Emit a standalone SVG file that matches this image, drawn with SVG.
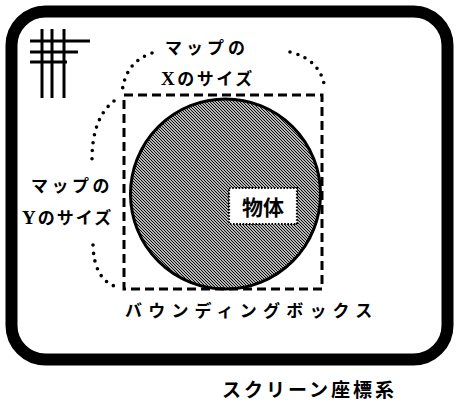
<svg xmlns="http://www.w3.org/2000/svg" width="456" height="403" viewBox="0 0 456 403">
<style>
.t{font-family:"Noto Sans CJK JP","Noto Sans",sans-serif;font-weight:bold;fill:#000}
.s{font-family:"Liberation Serif",serif;font-weight:bold}
.dots{fill:none;stroke:#000;stroke-width:3.6;stroke-linecap:round;stroke-dasharray:0 8}
</style>
<defs>
<pattern id="hatch" patternUnits="userSpaceOnUse" width="3" height="3">
<rect width="3" height="3" fill="#fff"/>
<path d="M-1,-1 L4,4 M-1,2 L1,4 M2,-1 L4,1" stroke="#000" stroke-width="1.1"/>
</pattern>
</defs>
<rect width="456" height="403" fill="#fff"/>
<g id="screen">
<rect x="11.5" y="11.5" width="436" height="348" rx="34" fill="none" stroke="#000" stroke-width="12"/>
<text class="t" x="222" y="397" font-size="19" letter-spacing="3">スクリーン座標系</text>
</g>
<g id="grid-icon" stroke="#000" stroke-width="3">
<line x1="42" y1="29" x2="42" y2="98"/>
<line x1="52" y1="29" x2="52" y2="98"/>
<line x1="64" y1="29" x2="64" y2="98"/>
<line x1="30" y1="41" x2="90" y2="41"/>
<line x1="30" y1="52" x2="78" y2="52"/>
<line x1="30" y1="62" x2="67" y2="62"/>
</g>
<g id="object">
<circle cx="225.5" cy="194" r="95" fill="url(#hatch)" stroke="#000" stroke-width="3"/>
<rect x="229" y="188" width="68" height="36" fill="#fff" stroke="#000" stroke-width="2.2" stroke-dasharray="1.6 1.6"/>
<text class="t" x="263" y="215" font-size="21" text-anchor="middle">物体</text>
</g>
<g id="bounding-box">
<rect x="124" y="95" width="198" height="194" fill="none" stroke="#000" stroke-width="3" stroke-dasharray="9 5"/>
<text class="t" x="125" y="317" font-size="17" letter-spacing="6.2">バウンディングボックス</text>
</g>
<g id="map-x-size">
<text class="t" x="165" y="54" font-size="17" letter-spacing="4">マップの</text>
<text class="t" x="161" y="85" font-size="17" letter-spacing="2.5"><tspan class="s" font-size="19">X</tspan>のサイズ</text>
</g>
<g id="map-y-size">
<text class="t" x="31" y="192" font-size="17" letter-spacing="3.5">マップの</text>
<text class="t" x="22" y="224" font-size="17" letter-spacing="2"><tspan class="s" font-size="19">Y</tspan>のサイズ</text>
</g>
<g id="connectors">
<path class="dots" d="M152,53 Q125,62 122,93"/>
<path class="dots" d="M114,101 Q92,118 92,160"/>
<path class="dots" d="M93,245 Q94,280 117,287"/>
<path class="dots" d="M290,52 Q322,60 325,90"/>
</g>
</svg>
